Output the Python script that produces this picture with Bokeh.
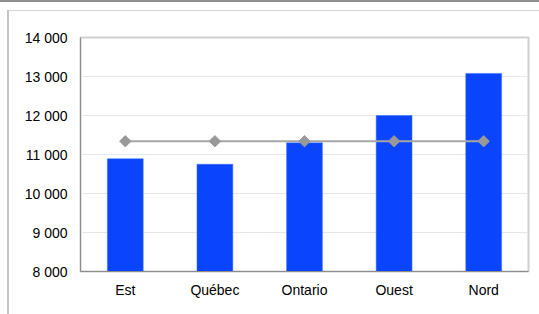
from bokeh.plotting import figure
from bokeh.models import FixedTicker, ColumnDataSource, Range1d
from bokeh.embed import file_html
from bokeh.resources import INLINE
import math

regions = ["Est", "Québec", "Ontario", "Ouest", "Nord"]
sales = [10890, 10750, 11300, 12000, 13080]
target = [11340, 11340, 11340, 11340, 11340]
y_ticks = [8000, 9000, 10000, 11000, 12000, 13000, 14000]
y_tick_labels = ["8 000", "9 000", "10 000", "11 000", "12 000", "13 000", "14 000"]

src = ColumnDataSource(dict(x=regions, sales=sales, target=target))

p = figure(x_range=regions, y_range=Range1d(8000, 14000), width=539, height=314,
           output_backend="svg", toolbar_location=None,
           min_border_left=80, min_border_right=11, min_border_top=37, min_border_bottom=43)

p.vbar(x="x", top="sales", bottom=8000, width=0.4, source=src,
       fill_color="#0a45fd", line_color="#3a6cff", line_width=0.5)
p.line(x="x", y="target", source=src, line_color="#a6a6a6", line_width=2)
p.scatter(x="x", y="target", source=src, marker="square", angle=math.pi / 4, size=8,
          fill_color="#999999", line_color="#999999")

p.yaxis.ticker = FixedTicker(ticks=y_ticks)
p.yaxis.major_label_overrides = {t: l for t, l in zip(y_ticks, y_tick_labels)}
for ax in (p.xaxis, p.yaxis):
    ax.major_tick_line_color = None
    ax.minor_tick_line_color = None
    ax.axis_line_color = "#8c8c8c"
    ax.axis_line_width = 1
    ax.major_label_text_font = "Liberation Sans"
    ax.major_label_text_font_size = "14px"
    ax.major_label_text_color = "#000000"
p.yaxis.major_label_standoff = 7
p.xaxis.major_label_standoff = 4

p.xgrid.grid_line_color = None
p.ygrid.grid_line_color = "#e6e6e6"
p.ygrid.ticker = FixedTicker(ticks=y_ticks)

p.outline_line_color = "#d0d0d0"
p.outline_line_width = 2
p.background_fill_color = "white"
p.border_fill_color = None

# page decoration: top rule and the container box edges (pure CSS background)
p.styles = {
    "background": (
        "linear-gradient(#8f8f8f,#8f8f8f) 0px 0px / 100% 2px no-repeat, "
        "linear-gradient(#c4c4c4,#c4c4c4) 7px 10px / 2px 100% no-repeat, "
        "linear-gradient(#d4d4d4,#d4d4d4) 7px 10px / 100% 1px no-repeat, "
        "white"
    )
}

open("out.html", "w").write(file_html(p, INLINE))
